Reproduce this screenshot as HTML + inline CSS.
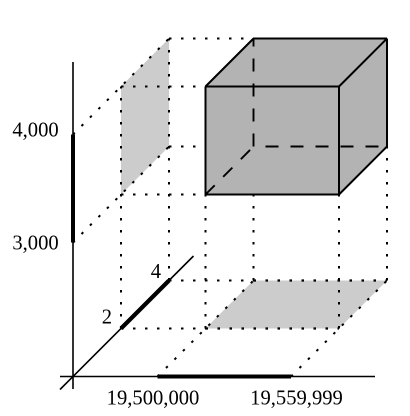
<!DOCTYPE html>
<html>
<head>
<meta charset="utf-8">
<title>3D range box chart</title>
<style>
html,body{margin:0;padding:0;background:#fff;width:410px;height:416px;overflow:hidden}
svg{display:block}
text{font-family:"Liberation Serif",serif;font-size:20.6px;fill:#000}
</style>
</head>
<body>
<svg id="chart" width="410" height="416" viewBox="0 0 410 416" xmlns="http://www.w3.org/2000/svg"></svg>
<script>
// Data
const xRange = [19500000, 19559999];
const yRange = [3000, 4000];
const zRange = [2, 4];
const xTickLabels = ['19,500,000', '19,559,999'];
const yTickLabels = ['3,000', '4,000'];
const zTickLabels = ['2', '4'];

// Axis functions
const ORIGIN_X = 73, ORIGIN_Y = 376.5;
const X_A = 157.5, X_B = 291, Y_A = 242.5, Y_B = 134.5, Z_A = 48, Z_B = 96;
function sx(v){ return X_A + (v - 19500000) * (X_B - X_A) / 59999; }
function sy(v){ return Y_A + (v - 3000) * (Y_B - Y_A) / 1000; }
function sz(v){ return Z_A + (v - 2) * (Z_B - Z_A) / 2; }
function project(x, y, z){
  const dz = z === null ? 0 : sz(z);
  const px = x === null ? ORIGIN_X : sx(x);
  const py = y === null ? ORIGIN_Y : sy(y);
  return [px + dz, py - dz];
}

const svg = document.getElementById('chart');
const NS = 'http://www.w3.org/2000/svg';

function drawLine(a, b, width, dash, name, offset){
  const el = document.createElementNS(NS, 'line');
  
  
  el.setAttribute('x1', a[0]);
  el.setAttribute('y1', a[1]);
  el.setAttribute('x2', b[0]);
  el.setAttribute('y2', b[1]);
  el.setAttribute('stroke', '#000');
  el.setAttribute('stroke-width', width);
  if (dash) el.setAttribute('stroke-dasharray', dash);
  if (offset) el.setAttribute('stroke-dashoffset', offset);
  svg.appendChild(el);
}
function drawPoly(points, fill, name){
  const el = document.createElementNS(NS, 'polygon');
  
  
  el.setAttribute('points', points.map(p => p.join(',')).join(' '));
  el.setAttribute('fill', fill);
  svg.appendChild(el);
}
function drawText(x, y, anchor, label, name){
  const el = document.createElementNS(NS, 'text');
  
  
  el.setAttribute('x', x);
  el.setAttribute('y', y);
  el.setAttribute('text-anchor', anchor);
  el.textContent = label;
  svg.appendChild(el);
}

const DOT = '2.5 9.5', DASH = '13 12';
const [x0, x1] = xRange, [y0, y1] = yRange, [z0, z1] = zRange;

// Projection shadows
drawPoly([project(null,y0,z0), project(null,y1,z0), project(null,y1,z1), project(null,y0,z1)], '#cccccc', 'yz-projection');
drawPoly([project(x0,null,z0), project(x1,null,z0), project(x1,null,z1), project(x0,null,z1)], '#cccccc', 'xz-projection');

// Dotted guides
[y0, y1].forEach(y => {
  drawLine(project(null,y,null), project(null,y,z1), 2, DOT, 'y-guide-diagonal');
  drawLine(project(null,y,z0), project(x0,y,z0), 2, DOT, 'y-guide-horizontal');
  drawLine(project(null,y,z1), project(x0,y,z1), 2, DOT, 'y-guide-horizontal');
});
[x0, x1].forEach(x => {
  drawLine(project(x,null,null), project(x,null,z1), 2, DOT, 'x-guide-diagonal');
  [z0, z1].forEach(z => {
    drawLine(project(x,null,z), project(x,y0,z), 2, DOT, 'x-guide-vertical');
  });
});
[z0, z1].forEach(z => {
  drawLine(project(null,null,z), project(null,y1,z), 2, DOT, 'z-guide-vertical');
  drawLine(project(null,null,z), project(x0,null,z), 2, DOT, 'z-guide-horizontal');
  drawLine(project(x0,null,z), project(x1,null,z), 2.2, DOT, 'xz-projection-edge');
});

// Box faces
drawPoly([project(x0,y1,z0), project(x0,y1,z1), project(x1,y1,z1), project(x1,y1,z0)], '#b3b3b3', 'box-top-face');
drawPoly([project(x1,y0,z0), project(x1,y1,z0), project(x1,y1,z1), project(x1,y0,z1)], '#b3b3b3', 'box-side-face');
drawPoly([project(x0,y0,z0), project(x1,y0,z0), project(x1,y1,z0), project(x0,y1,z0)], '#b3b3b3', 'box-front-face');

// Hidden edges
drawLine(project(x0,y0,z0), project(x0,y0,z1), 1.9, DASH, 'box-hidden-edge');
drawLine(project(x0,y0,z1), project(x1,y0,z1), 1.9, DASH, 'box-hidden-edge', 13);
drawLine(project(x0,y0,z1), project(x0,y1,z1), 1.9, DASH, 'box-hidden-edge');

// Visible box edges
const edges = [
  [[x0,y0,z0],[x1,y0,z0]], [[x1,y0,z0],[x1,y1,z0]], [[x1,y1,z0],[x0,y1,z0]], [[x0,y1,z0],[x0,y0,z0]],
  [[x0,y1,z0],[x0,y1,z1]], [[x0,y1,z1],[x1,y1,z1]], [[x1,y1,z1],[x1,y1,z0]],
  [[x1,y1,z1],[x1,y0,z1]], [[x1,y0,z1],[x1,y0,z0]]
];
edges.forEach(e => {
  drawLine(project(e[0][0],e[0][1],e[0][2]), project(e[1][0],e[1][1],e[1][2]), 2, null, 'box-edge');
});

// Axes
drawLine([60, ORIGIN_Y], [375, ORIGIN_Y], 1.6, null, 'x-axis');
drawLine([ORIGIN_X, 62], [ORIGIN_X, 389], 1.6, null, 'y-axis');
drawLine([60, 389.5], [193.5, 256], 1.6, null, 'z-axis');

// Range bars on axes
drawLine(project(x0,null,null), project(x1,null,null), 4, null, 'x-range-bar');
drawLine(project(null,y0,null), project(null,y1,null), 4, null, 'y-range-bar');
drawLine(project(null,null,z0), project(null,null,z1), 4.2, null, 'z-range-bar');

// Tick labels
xTickLabels.forEach((t, i) => {
  drawText(sx(xRange[i]) + (i === 0 ? -4.5 : 5.5), 404.3, 'middle', t, 'x-tick-label');
});
yTickLabels.forEach((t, i) => {
  drawText(58.7, sy(yRange[i]) + (i === 0 ? 6.8 : 2.2), 'end', t, 'y-tick-label');
});
zTickLabels.forEach((t, i) => {
  const p = project(null, null, zRange[i]);
  drawText(p[0] - (i === 0 ? 9 : 8), p[1] - (i === 0 ? 5 : 2.5), 'end', t, 'z-tick-label');
});
</script>
</body>
</html>
